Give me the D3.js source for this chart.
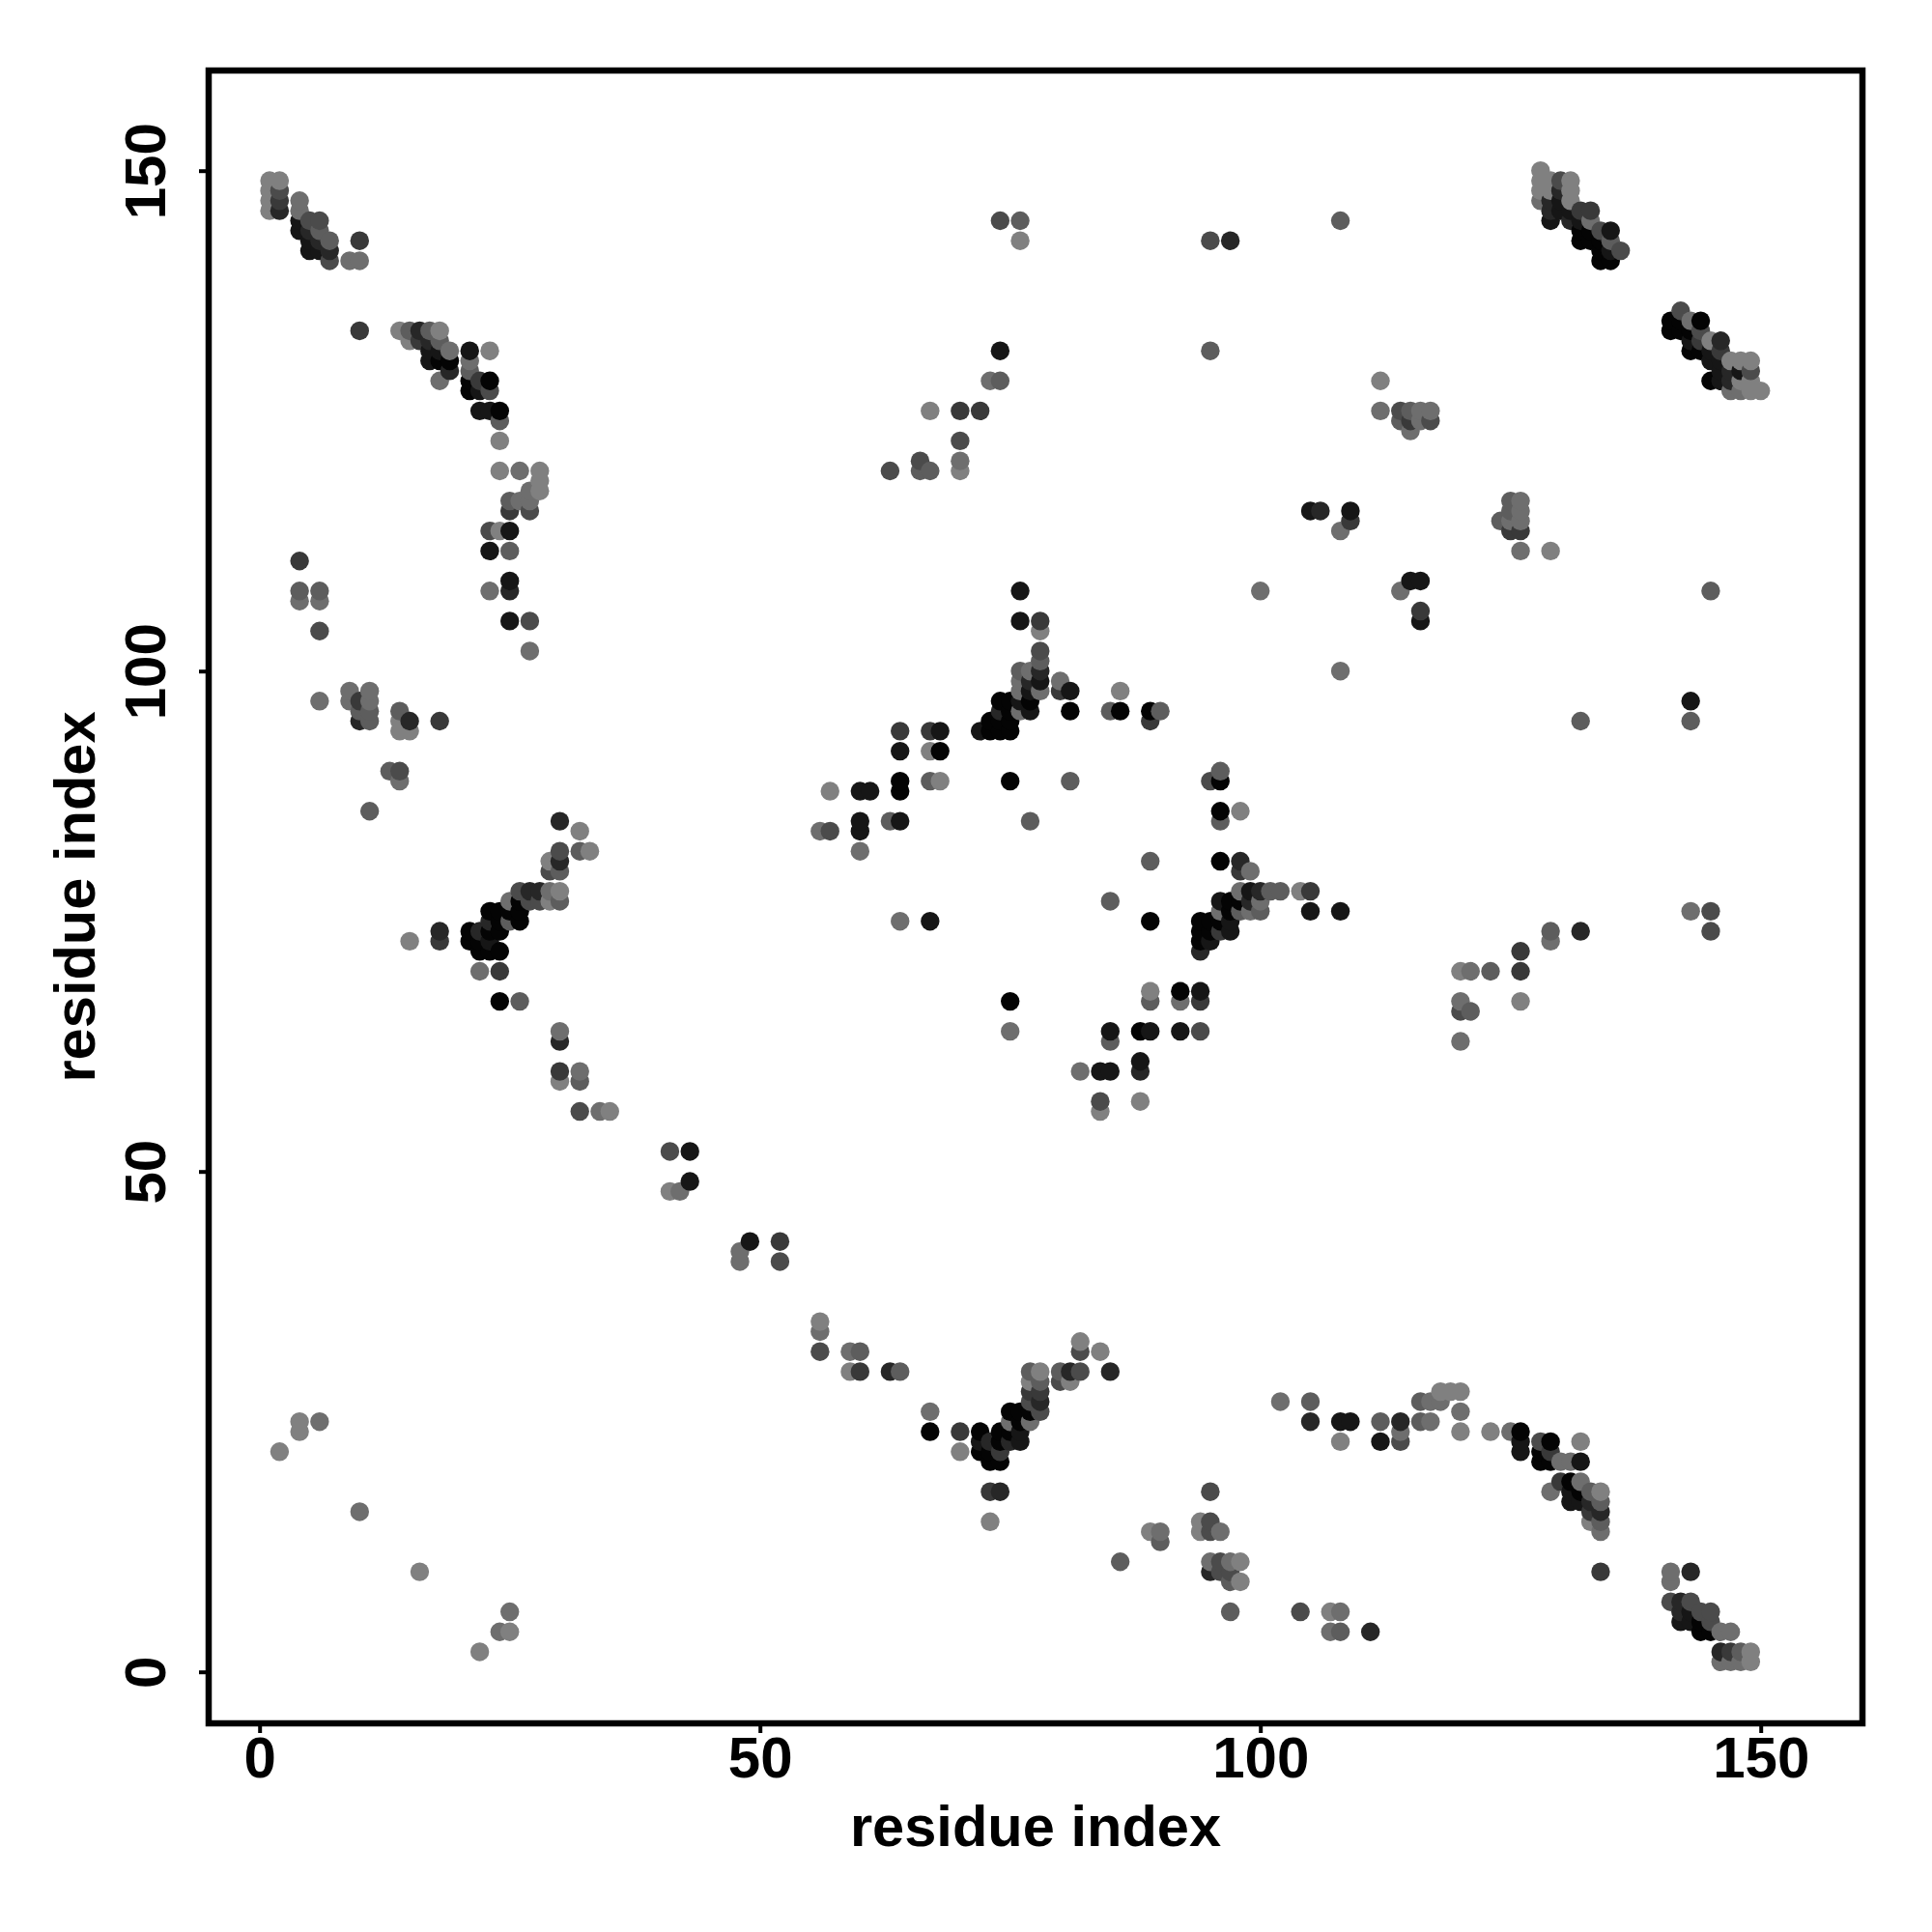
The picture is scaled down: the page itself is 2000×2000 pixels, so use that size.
<!DOCTYPE html>
<html><head><meta charset="utf-8">
<script src="https://cdnjs.cloudflare.com/ajax/libs/d3/7.8.5/d3.min.js"></script>
<style>html,body{margin:0;padding:0;background:#fff}svg{display:block}</style>
</head><body><svg id="c" width="2000" height="2000"></svg>
<script>
// [residue x, residue y, shade 0 (black) .. 7 (lightest grey)]
const cornerTopLeft=[[1,149,7],[1,148,7],[1,147,7],[1,146,7],[2,149,7],[2,148,4],[2,147,3],[2,146,2],[4,147,6],[4,146,6],[4,145,1],[4,144,1],[5,145,4],[5,144,2],[5,143,1],[5,142,1],[6,145,4],[6,144,5],[6,143,2],[6,142,1],[7,143,5],[7,142,2],[7,141,4],[9,141,6],[10,143,3],[10,141,6]];
const sheetA=[[10,134,3],[14,134,7],[15,134,5],[15,133,7],[16,134,2],[16,133,3],[17,134,5],[17,133,2],[17,132,1],[17,131,1],[18,134,7],[18,133,5],[18,132,1],[18,131,0],[18,129,6],[19,132,6],[19,131,0],[19,130,2],[21,132,1],[21,131,6],[21,130,5],[21,129,0],[21,128,0],[22,129,3],[22,128,1],[22,126,1],[23,132,7],[23,129,0],[23,128,4],[23,126,1],[24,126,0],[24,125,5],[24,123,7],[24,120,7],[23,114,4],[23,112,1],[24,114,7],[25,117,5],[25,116,3],[25,114,1],[25,112,5],[26,120,6],[26,117,6],[27,118,6],[27,117,6],[27,116,4],[28,120,7],[28,119,7],[28,118,7]];
const leftScatter=[[4,111,3],[4,108,5],[4,107,6],[6,108,5],[6,107,6],[6,104,4],[6,97,6],[9,98,6],[9,97,6],[10,97,3],[10,96,5],[10,95,2],[11,98,6],[11,97,6],[11,96,5],[11,95,5],[14,96,5],[14,95,7],[14,94,7],[15,95,2],[15,94,7],[18,95,3],[13,90,5],[14,90,4],[14,89,6],[11,86,5],[23,108,6],[25,109,1],[25,108,2],[25,105,1],[27,105,4],[27,102,6]];
const helixLeft=[[15,73,7],[18,74,2],[18,73,3],[21,74,0],[21,73,0],[22,74,2],[22,73,0],[22,72,0],[22,70,6],[23,76,0],[23,75,2],[23,74,0],[23,73,1],[23,72,0],[24,76,0],[24,75,0],[24,74,0],[24,72,0],[24,70,3],[24,67,0],[25,77,6],[25,76,0],[25,75,5],[26,78,4],[26,77,0],[26,76,0],[26,75,0],[26,67,5],[27,78,2],[27,77,4],[28,78,2],[28,77,4],[29,81,7],[29,80,4],[29,78,6],[29,77,7],[30,85,2],[30,82,4],[30,81,2],[30,80,5],[30,78,7],[30,77,5],[30,64,6],[30,63,2],[30,60,3],[30,59,7],[32,84,7],[32,82,5],[32,60,6],[32,59,5],[32,56,4],[33,82,7],[34,56,6],[35,56,7]];
const antiDiagonal=[[41,52,4],[43,52,1],[43,49,1],[41,48,7],[42,48,6],[48,42,6],[48,41,6],[49,43,1],[52,43,3],[52,41,4],[56,35,7],[56,34,6],[56,32,4],[59,32,6],[60,32,5],[59,30,7],[60,30,3],[63,30,2],[64,30,5]];
const helixBottom=[[67,26,6],[67,24,0],[70,24,3],[70,22,7],[72,24,0],[72,23,1],[72,22,0],[73,23,2],[73,22,0],[73,21,0],[73,18,3],[73,15,7],[74,24,0],[74,23,0],[74,22,3],[74,21,0],[74,18,2],[75,26,0],[75,25,6],[75,24,0],[75,23,2],[76,26,0],[76,25,0],[76,24,1],[76,23,1],[77,30,5],[77,29,7],[77,28,3],[77,27,4],[77,26,0],[77,25,6],[78,30,7],[78,29,5],[78,28,3],[78,27,2],[78,26,4],[80,30,5],[80,29,4],[81,30,2],[81,29,7],[82,33,7],[82,32,4],[82,30,4],[84,32,7],[85,30,2]];
const bottomMiddle=[[86,11,5],[89,14,7],[90,14,6],[90,13,5],[94,15,7],[94,14,7],[95,18,4],[95,15,4],[95,14,4],[95,11,6],[95,10,2],[96,14,6],[96,11,4],[96,10,4],[97,11,6],[97,10,4],[97,9,5],[97,6,5],[98,11,7],[98,9,7],[104,6,4],[107,6,7],[108,6,6],[107,4,6],[108,4,5],[111,4,2]];
const sheetBottom=[[102,27,6],[105,27,5],[105,25,2],[108,25,1],[109,25,1],[108,23,7],[112,25,5],[112,23,1],[114,25,2],[114,24,6],[114,23,4],[116,27,5],[116,25,5],[117,27,6],[117,25,6],[118,28,7],[118,27,6],[119,28,7],[120,28,7],[120,26,6],[120,24,7],[123,24,7],[125,24,6],[126,24,0],[126,23,1],[126,22,1],[128,23,4],[128,22,0],[128,21,0],[129,23,0],[129,22,3],[129,21,0],[129,18,6],[130,21,6],[130,19,3],[131,21,6],[131,19,0],[131,18,1],[131,17,1],[132,23,7],[132,21,1],[132,19,6],[132,18,0],[132,17,1],[133,18,5],[133,17,2],[133,16,3],[133,15,7],[134,18,7],[134,17,5],[134,16,2],[134,15,5],[134,14,6],[134,10,3]];
const cornerBottomRight=[[141,10,6],[141,9,6],[143,10,2],[141,7,4],[142,7,2],[142,6,2],[142,5,1],[143,7,4],[143,6,1],[143,5,1],[144,6,4],[144,5,0],[144,4,0],[145,6,4],[145,5,4],[145,4,0],[146,4,6],[147,4,6],[146,2,2],[146,1,6],[147,2,3],[147,1,6],[148,2,5],[148,1,6],[149,2,7],[149,1,7]];
const bottomLeft=[[2,22,7],[4,25,7],[4,24,7],[6,25,6],[10,16,6],[16,10,7],[22,2,7],[24,4,6],[25,4,7],[25,6,6]];
const topMiddle=[[74,145,4],[76,145,5],[76,143,7],[95,143,4],[97,143,2],[108,145,5],[95,132,5],[74,132,1],[73,129,6],[74,129,5],[67,126,7],[70,126,3],[72,126,3],[70,123,4],[70,121,6],[70,120,7],[66,121,4],[66,120,5],[67,120,5],[63,120,4]];
const upperRight=[[112,129,7],[112,126,6],[114,126,4],[114,125,5],[115,126,5],[115,125,3],[115,124,6],[116,126,6],[116,125,6],[117,126,6],[117,125,4],[105,116,1],[106,116,2],[109,116,1],[109,115,3],[108,114,6],[125,117,5],[126,117,6],[125,116,5],[126,116,6],[124,115,5],[125,115,6],[126,115,6],[125,114,3],[126,114,3],[126,112,6],[129,112,7],[115,109,1],[116,109,1],[114,108,6],[116,106,3],[116,105,1],[100,108,6],[145,108,5],[108,100,6],[132,95,5],[143,97,1],[143,95,5]];
const centreTop=[[76,108,1],[76,105,1],[78,105,3],[78,104,7],[78,102,4],[78,101,5],[78,100,2],[78,99,1],[78,98,6],[76,100,5],[77,100,6],[76,99,6],[77,99,2],[76,98,6],[77,98,1],[80,99,6],[80,98,3],[81,98,1],[81,96,0],[86,98,7],[85,96,5],[86,96,0],[89,96,0],[90,96,5],[89,95,3],[74,97,0],[75,97,0],[76,97,1],[77,97,0],[74,96,2],[75,96,0],[76,96,6],[77,96,1],[73,95,0],[74,95,0],[75,95,0],[72,94,1],[73,94,0],[74,94,0],[75,94,0]];
const centreLeft=[[64,94,3],[67,94,3],[68,94,1],[64,92,1],[67,92,7],[68,92,0],[64,89,0],[64,88,0],[67,89,5],[68,89,7],[75,89,0],[81,89,5],[57,88,7],[60,88,1],[61,88,1],[60,85,1],[60,84,1],[60,82,6],[63,85,5],[64,85,1],[56,84,6],[57,84,4],[77,85,5]];
const centreRight=[[96,90,5],[95,89,4],[96,89,0],[96,86,0],[96,85,5],[98,86,7],[89,81,5],[96,81,0],[98,81,2],[98,80,3],[99,80,6],[85,77,5],[64,75,6],[67,75,1],[89,75,0],[94,75,0],[94,74,0],[94,73,0],[94,72,2],[95,75,0],[95,74,0],[95,73,1],[96,77,1],[96,76,6],[96,75,0],[96,74,3],[97,77,0],[97,76,0],[97,75,1],[97,74,1],[98,78,6],[98,77,0],[98,76,5],[99,78,1],[99,77,2],[99,76,6],[100,78,2],[100,77,6],[100,76,5],[101,78,5],[102,78,5],[104,78,7],[105,78,3],[105,76,1],[108,76,1]];
const centreLower=[[89,68,7],[89,67,5],[92,68,0],[92,67,6],[94,68,1],[94,67,3],[85,64,1],[85,63,5],[88,64,0],[89,64,1],[92,64,1],[94,64,4],[75,67,0],[75,64,6],[82,60,6],[84,60,1],[85,60,1],[88,61,1],[88,60,2],[84,57,4],[84,56,7],[88,57,7]];
const rightScatter=[[129,74,5],[129,73,6],[132,74,2],[126,72,3],[126,70,3],[123,70,5],[120,70,7],[121,70,6],[120,67,6],[120,66,4],[121,66,5],[120,63,6],[126,67,7],[143,76,6],[145,76,4],[145,74,4]];
const cornerTopRight=[[128,150,7],[128,149,7],[128,148,7],[128,147,6],[129,149,7],[129,148,7],[129,147,2],[129,146,2],[129,145,1],[130,149,4],[130,148,2],[130,147,1],[130,146,1],[131,149,7],[131,148,7],[131,147,7],[131,146,1],[131,145,2],[132,146,3],[132,145,1],[132,144,0],[132,143,0],[133,146,3],[133,145,6],[133,144,0],[133,143,0],[134,144,4],[134,143,0],[134,142,0],[134,141,0],[135,144,1],[135,143,5],[135,142,1],[135,141,0],[136,142,4]];
const sheetRight=[[141,135,0],[141,134,0],[142,136,4],[142,135,0],[142,134,0],[143,135,6],[143,134,0],[143,133,1],[143,132,0],[144,135,0],[144,134,4],[144,133,3],[144,132,0],[145,133,7],[145,132,1],[145,131,1],[145,129,0],[146,133,2],[146,132,3],[146,131,1],[146,130,1],[146,129,1],[147,131,7],[147,130,2],[147,129,2],[147,128,6],[148,131,7],[148,130,1],[148,129,7],[148,128,6],[149,131,7],[149,130,4],[149,129,7],[149,128,7],[150,128,7]];
const xTicks=[0,50,100,150];
const yTicks=[0,50,100,150];
const axisTitle="residue index";

const contacts=[].concat(cornerTopLeft,sheetA,leftScatter,helixLeft,antiDiagonal,helixBottom,bottomMiddle,sheetBottom,cornerBottomRight,bottomLeft,topMiddle,upperRight,centreTop,centreLeft,centreRight,centreLower,rightScatter,cornerTopRight,sheetRight)
  .sort((a,b)=>d3.ascending(a[0],b[0])||d3.ascending(a[1],b[1]));

const frame={left:216,right:1928,top:73,bottom:1784};
const x=d3.scaleLinear().domain([0,150]).range([268.7,1822.7]);
const y=d3.scaleLinear().domain([0,150]).range([1730.7,176.7]);
const shade=d3.scaleLinear().domain([0,7]).range(["#040404","#808080"]);
const svg=d3.select("#c");
const FONT='"Liberation Sans",Arial,sans-serif';

svg.append("g").selectAll("circle").data(contacts).join("circle")
  .attr("cx",d=>x(d[0])).attr("cy",d=>y(d[1])).attr("r",9.7)
  .attr("fill",d=>shade(d[2]));

svg.append("rect").attr("x",frame.left).attr("y",frame.top)
  .attr("width",frame.right-frame.left).attr("height",frame.bottom-frame.top)
  .attr("fill","none").attr("stroke","#000").attr("stroke-width",6.5);

const gx=svg.append("g").attr("transform",`translate(0,${frame.bottom})`)
  .call(d3.axisBottom(x).tickValues(xTicks).tickSize(10).tickPadding(9).tickFormat(d3.format("d")));
const gy=svg.append("g").attr("transform",`translate(${frame.left},0)`)
  .call(d3.axisLeft(y).tickValues(yTicks).tickSize(10).tickFormat(d3.format("d")));
[gx,gy].forEach(g=>{
  g.select(".domain").remove();
  g.selectAll("line").attr("stroke","#000").attr("stroke-width",4);
  g.selectAll("text").attr("fill","#000").attr("font-family",FONT).attr("font-weight","bold").attr("font-size",60);
});
gx.selectAll("text").attr("y",null).attr("dy",null).attr("text-anchor","middle")
  .attr("transform","translate(0,56)");
gy.selectAll("text").attr("x",null).attr("dy",null).attr("text-anchor","middle")
  .attr("transform","translate(-45,0) rotate(-90)");

svg.append("text").text(axisTitle).attr("x",(frame.left+frame.right)/2).attr("y",1911)
  .attr("text-anchor","middle").attr("font-family",FONT).attr("font-weight","bold").attr("font-size",59.6);
svg.append("text").text(axisTitle).attr("transform",`translate(98,${(frame.top+frame.bottom)/2}) rotate(-90)`)
  .attr("text-anchor","middle").attr("font-family",FONT).attr("font-weight","bold").attr("font-size",59.6);
</script></body></html>
